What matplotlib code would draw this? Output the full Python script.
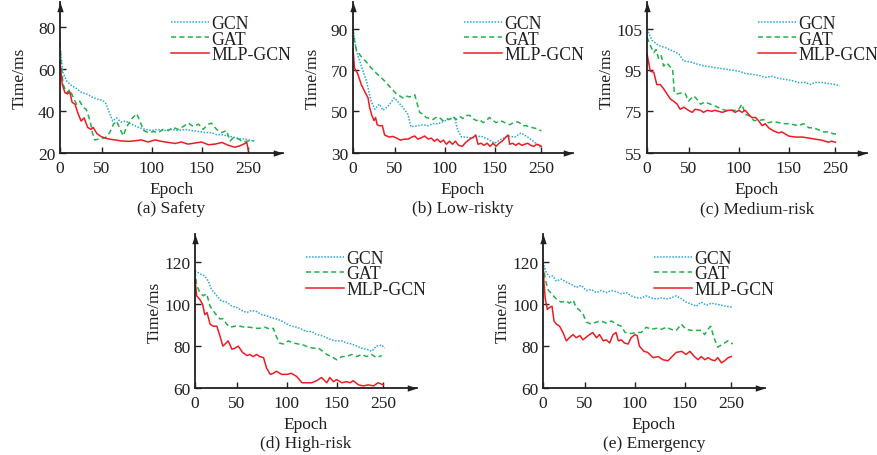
import matplotlib
matplotlib.use("Agg")
import matplotlib.pyplot as plt
from matplotlib.path import Path

# ---------------- data ----------------
series_names = ["GCN", "GAT", "MLP-GCN"]
panel_titles = ["(a) Safety", "(b) Low-riskty", "(c) Medium-risk", "(d) High-risk", "(e) Emergency"]
x_tick_labels = ["0", "50", "100", "150", "250"]

a_y_ticklabels = ["20", "40", "60", "80"]
a_y_ticks = [20, 40, 60, 80]
b_y_ticklabels = ["30", "50", "70", "90"]
b_y_ticks = [30, 50, 70, 90]
c_y_ticklabels = ["55", "75", "95", "105"]
c_y_ticks = [55, 75, 95, 115]
d_y_ticklabels = ["60", "80", "100", "120"]
d_y_ticks = [60, 80, 100, 120]
e_y_ticklabels = ["60", "80", "100", "120"]
e_y_ticks = [60, 80, 100, 120]

# (a) Safety
a_gcn_ep = [0, 4, 9, 15, 22, 29, 35, 42, 49, 55, 60, 64, 70, 75, 81, 87, 95, 104, 113, 122,
            130, 139, 148, 157, 166, 175, 184, 193, 201, 208, 215, 222, 228, 234, 239, 245, 250, 258]
a_gcn_ms = [70, 58, 54, 52, 50.5, 48.5, 48, 46.5, 45.5, 45, 44, 40.5, 35, 36.5, 34.5, 35, 33.5, 32, 31, 30.5,
            31, 30.5, 31, 30.5, 31, 30.5, 30, 29.5, 29.5, 28.5, 28.5, 28, 27.5, 27, 26.5, 26.5, 26, 25.5]
a_gat_ep = [0, 1.3, 4, 9, 13, 18, 22, 26, 31, 35, 40, 43, 46, 53, 60, 66, 71, 75, 80, 84,
            88, 95, 102, 106, 111, 117, 124, 130, 137, 144, 150, 157, 164, 170, 177, 184, 190, 197, 201, 208,
            215, 221, 226, 230, 237, 243, 250, 258]
a_gat_ms = [72.5, 64, 52.5, 48.5, 50, 46, 43, 44.5, 41.5, 40.5, 35, 29.5, 26, 26.5, 27, 29.5, 33.5, 35, 31, 28,
            32, 36, 38.5, 35, 30.5, 29.5, 30, 29.5, 31, 30.5, 32, 31, 32.5, 34, 32.5, 33.5, 31, 33.5, 34, 31,
            29.5, 30.5, 25.5, 27, 26.5, 25, 25.5, 25.5]
a_mlp_ep = [0, 3, 6.6, 10, 13, 16, 20, 23.5, 28, 32, 36.7, 41, 44, 49, 55, 64, 73, 82, 91, 100,
            108, 117, 126, 135, 144, 153, 161, 170, 179, 188, 197, 206, 215, 223, 232, 239, 245.6, 248, 250]
a_mlp_ms = [63, 52.5, 48.5, 48, 49, 44, 43, 39, 35, 36.5, 32, 31, 32, 29, 27.5, 26.5, 26, 25.5, 25.3, 25.6,
            26, 25, 26, 25.3, 24.8, 24.3, 25, 24, 24.5, 25, 23.7, 24, 24.8, 23.5, 22.5, 23.2, 24.3, 24.8, 21]

# (b) Low-riskty
b_gcn_ep = [0, 4.4, 11, 17.7, 24, 29, 35, 40, 46.5, 55, 60, 66, 73, 77, 86, 93, 100, 106, 113, 120,
            126, 135, 139, 144, 150, 157, 164, 170, 179, 188, 197, 206, 215, 223, 232, 241, 249]
b_gcn_ms = [90, 79.5, 72, 65, 55, 51, 53.5, 50.5, 52.5, 56.5, 54.5, 52, 48.5, 42.5, 43, 43.5, 43, 44, 44, 45,
            46, 47, 41, 37.5, 37.5, 37, 37.5, 38, 36.5, 34.5, 36.5, 38, 37.5, 39.5, 37.5, 35, 32.5]
b_gat_ep = [0, 2, 4.4, 10, 17.7, 22, 31, 40, 48.7, 57.5, 62, 66.4, 70, 75, 82, 85, 88.5, 93, 97, 102,
            106, 110, 115, 119, 124, 128, 133, 137, 142, 146, 150, 155, 159, 164, 168, 173, 177, 181, 186, 190,
            195, 199, 204, 208, 213, 217, 221, 226, 230, 235, 239, 245, 250]
b_gat_ms = [90, 84, 80, 77, 74, 72, 68.5, 65.5, 62, 58.5, 57.5, 56.5, 57.5, 57, 58, 54, 49.5, 48.5, 47, 46.5,
            46, 47, 47, 45.5, 46.5, 46, 47.5, 46, 47.5, 46.5, 48, 48, 46.5, 45.5, 46, 44.5, 45.5, 47, 45.5, 44.5,
            45.5, 45, 44, 43.5, 44.5, 45, 44.5, 43, 43, 42.5, 42, 41.5, 40.5]
b_mlp_ep = [0, 2, 6, 11, 15, 20, 22, 25, 28, 30, 32, 35, 39, 42, 48, 53, 58, 63, 68, 73,
            78, 82, 86, 90, 95, 100, 104, 108, 112, 116, 120, 124, 128, 132, 136, 140, 145, 150, 155, 160,
            163, 166, 170, 174, 178, 182, 186, 190, 194, 198, 203, 206, 208, 212, 216, 220, 224, 228, 232, 236,
            240, 244, 248, 250]
b_mlp_ms = [80.5, 71, 68.5, 63, 60, 56.5, 52, 48, 45.5, 47, 43.5, 43, 43, 38.5, 37.5, 37.8, 37, 36, 36.5, 36.5,
            37.5, 38, 36.5, 37, 38, 36.5, 37, 35.5, 36.5, 35, 36, 34, 35.5, 34, 35.5, 33.5, 33, 35, 36.5, 37.5,
            38.5, 34, 34.5, 33.5, 34.5, 33, 34.5, 33, 34.5, 35.5, 37.5, 38.5, 34, 34.5, 33.5, 34.5, 33.5, 34, 34.5, 33.5,
            33, 34, 33.5, 33]

# (c) Medium-risk
c_gcn_ep = [0, 6.6, 15.5, 24, 33, 42, 48.7, 57.5, 66, 77, 86, 95, 104, 113, 122, 130, 139, 148, 157, 166,
            175, 184, 192, 201, 210, 217, 223, 232, 241, 250, 256]
c_gcn_ms = [115, 109.5, 107, 106, 104.5, 103, 99.5, 99, 98, 97, 96.5, 96, 95.5, 95, 94.5, 93.5, 93, 92.5, 91.5, 92,
            91, 90.5, 90, 89, 89, 88, 89, 89, 88.5, 88, 87.5]
c_gat_ep = [0, 4.4, 9, 12, 15.5, 19, 22, 26.5, 31, 34, 36.3, 40, 46.5, 51, 55, 62, 66, 71, 77, 84,
            91, 97, 104, 111, 117, 122, 126, 130.5, 135, 142, 148, 155, 161, 168, 175, 181, 188, 195, 201, 208,
            215, 221, 228, 234.5, 241, 248, 252]
c_gat_ms = [111, 107, 103.5, 105, 100.5, 102, 97, 98.5, 96.5, 95.5, 84, 83.5, 84, 83.5, 80, 82.5, 81, 78.5, 79.5, 78.5,
            77.5, 76.5, 75.5, 75.5, 75.5, 76, 78.5, 73.5, 73, 70.5, 70.5, 71, 69.5, 70, 69.5, 69, 69, 68.5, 68, 69,
            67, 67, 66, 65, 65, 64, 64]
c_mlp_ep = [0, 4.4, 9, 13, 17.7, 22, 26.5, 31, 35, 40, 44, 49, 55, 60, 64, 71, 75, 80, 86, 90,
            95, 100, 104, 108, 113, 117, 122, 126, 130.5, 135, 139, 144, 148, 153, 157, 161.5, 168, 175, 179, 188,
            197, 206, 215, 223, 232, 241, 245, 250]
c_mlp_ms = [103, 94.5, 94, 88, 88, 86, 83.5, 81, 80, 78.5, 76, 77, 75.5, 74.5, 76, 75.5, 74.5, 75.5, 75, 75.5,
            75, 74.5, 75, 75.5, 75.5, 74.5, 75.5, 74.5, 75.5, 73.5, 72, 72, 70.5, 68, 69, 67, 65.5, 64.5, 65, 63,
            62.5, 62.5, 62, 61.5, 61, 60, 60.5, 60]

# (d) High-risk
d_gcn_ep = [0, 6.6, 13, 17.7, 22, 29, 35, 42, 49, 55, 62, 69, 75, 82, 88.5, 95, 102, 108, 115, 122,
            128, 135, 142, 148, 155, 161.5, 168, 175, 181, 188, 195, 201, 208, 215, 221, 228, 234.5, 241, 248, 252]
d_gcn_ms = [116, 114.5, 113.5, 111, 107, 104, 101.5, 101, 99, 98.5, 97, 96, 97, 96.5, 95, 94.5, 93.5, 93, 92, 90.5,
            89.5, 89, 88, 87, 87, 85.5, 85, 84, 83, 82.5, 82.5, 81.5, 81, 80, 79, 78.5, 77.5, 80, 80.5, 79]
d_gat_ep = [0, 2.2, 6.6, 11, 15.5, 20, 24, 29, 33, 37.6, 42, 46.5, 53, 60, 66, 73, 80, 86, 93, 100,
            104, 107.5, 112, 117, 124, 130.5, 137, 144, 150.5, 157, 164, 170, 175, 181, 188, 195, 201, 208, 215, 221,
            228, 234.5, 241, 248]
d_gat_ms = [116, 109, 105.5, 104, 105, 99, 97, 94.5, 93, 93, 90.5, 89, 89.5, 89.5, 89, 89, 88.5, 88.5, 89, 88,
            88.5, 85, 81.5, 81, 82.5, 81.5, 81, 80.5, 79.5, 79, 79, 77.5, 76, 75, 73.5, 75, 75, 76, 75, 76,
            75, 76, 74.5, 75.5]
d_mlp_ep = [0, 2.2, 6, 10, 13, 16, 20, 24, 29, 33, 37, 40, 44, 49, 53, 57.5, 63, 69, 73, 77,
            82, 86, 91, 95, 100, 104, 108, 115, 122, 128, 135, 142, 148, 155, 161.5, 168, 175, 179, 184, 188,
            195, 201, 206, 210, 217, 223.5, 230, 237, 243, 250]
d_mlp_ms = [112, 104, 102.5, 100, 95, 96, 90.5, 89.5, 89.5, 85, 80, 81, 82.5, 78.5, 79, 80, 77, 75.5, 76, 75,
            76, 75, 74.5, 69.5, 66.5, 67, 68, 66.5, 66.5, 67, 65.5, 62.5, 62.5, 62.5, 63.5, 65, 62.5, 65, 63, 64,
            62.5, 63, 62.5, 63.5, 61.5, 61, 61.5, 61, 62.5, 61.5]

# (e) Emergency
e_gcn_ep = [0, 4.4, 9, 13, 17.7, 24, 31, 37.6, 44, 51, 57.5, 64, 71, 77, 84, 91, 97, 104, 111, 117,
            124, 130.5, 137, 144, 150.5, 157, 164, 170, 177, 184, 190, 197, 203.5, 210, 217, 223.5, 230, 237, 243, 252]
e_gcn_ms = [120, 115, 113, 113.5, 111, 112, 110.5, 109.5, 108, 109, 106.5, 107, 105.5, 106.5, 105.5, 106.5, 106, 105, 105.5, 104,
            103, 103, 104, 103, 102.5, 103, 102.5, 103, 104, 102.5, 101, 100, 99, 101, 99.5, 100.5, 100, 99.5, 99, 98.5]
e_gat_ep = [0, 3, 6.6, 11, 17.7, 24, 31, 35, 40, 44, 49, 53, 57.5, 64, 71, 77, 84, 91, 97, 104,
            109, 117, 124, 130.5, 137, 144, 150.5, 157, 164, 170, 177, 183.6, 190, 197, 203.5, 210, 214.6, 219, 222.6, 227,
            232, 239, 245.6, 252]
e_gat_ms = [119, 112, 107, 105, 102.5, 101, 101.5, 100.5, 102, 98.5, 97, 95.5, 91.5, 90.5, 91.5, 92, 91, 92, 90.5, 89.5,
            86.5, 86, 86.5, 86.5, 89, 88, 88.5, 88, 89, 88, 87.5, 90.5, 88, 87.5, 87.5, 87.5, 85.5, 88, 89.5, 84,
            79.5, 81, 82.5, 81]
e_mlp_ep = [0, 1.3, 3, 5.8, 9, 12, 14.6, 17.7, 22, 26.5, 31, 35, 40, 44, 49, 53, 60, 66, 71, 75,
            80, 84, 88.5, 93, 97, 100, 104, 108, 113, 117, 122, 125, 128, 134, 139, 146, 153, 159, 166, 170,
            177, 184, 190, 195, 201, 206, 210, 215, 219, 223.5, 228, 232, 237, 241, 246, 250]
e_mlp_ms = [121, 110.5, 102.5, 97.5, 98.5, 99, 92, 90.5, 89.5, 86.5, 82.5, 84, 85.5, 84, 85, 83, 85, 86.5, 84, 85.5,
            82.5, 83, 81.5, 85.5, 86.5, 82.5, 83, 81.5, 81, 84, 85.5, 85, 80, 77.5, 77, 74.5, 75, 73.5, 73, 74.5,
            77, 77.5, 76, 77.5, 75, 73.5, 75, 73.5, 74.5, 73.5, 73, 74.5, 72, 73, 74.5, 75]

# ---------------- style / layout ----------------
plt.rcParams["font.family"] = ["Liberation Serif", "DejaVu Serif"]
FS = 12.5
LEG_FS = 12.8
TXT = "#231f20"
AX = "#231f20"
COLORS = ["#2aa7e1", "#22b04b", "#ed1c24"]
STYLES = [(0, (1, 1)), (0, (3.3, 2.2)), "-"]
LW = 1.1

W, H = 877, 456
fig = plt.figure(figsize=(W / 100, H / 100), dpi=100)
fig.patch.set_facecolor("white")

PX_PER_EPOCH = 188.3 / 250
xtick_pos = [0, 55.4, 121.7, 188.1, 250]

# (left, right, top, bottom) in pixels; y0 value at bottom, y1 value at pixel y1px; legend offset
layout = [
    (60, 283, 3, 153.5, 20, 80, 27.7, 13.0),
    (353, 573, 3, 153.5, 30, 90, 30, 13.0),
    (647, 867, 3, 153.5, 55, 115, 30, 13.0),
    (195, 417, 235, 389, 60, 120, 263.3, 15.8),
    (543, 765, 235, 389, 60, 120, 263.3, 15.8),
]
data = [
    ((a_gcn_ep, a_gcn_ms), (a_gat_ep, a_gat_ms), (a_mlp_ep, a_mlp_ms), a_y_ticks, a_y_ticklabels),
    ((b_gcn_ep, b_gcn_ms), (b_gat_ep, b_gat_ms), (b_mlp_ep, b_mlp_ms), b_y_ticks, b_y_ticklabels),
    ((c_gcn_ep, c_gcn_ms), (c_gat_ep, c_gat_ms), (c_mlp_ep, c_mlp_ms), c_y_ticks, c_y_ticklabels),
    ((d_gcn_ep, d_gcn_ms), (d_gat_ep, d_gat_ms), (d_mlp_ep, d_mlp_ms), d_y_ticks, d_y_ticklabels),
    ((e_gcn_ep, e_gcn_ms), (e_gat_ep, e_gat_ms), (e_mlp_ep, e_mlp_ms), e_y_ticks, e_y_ticklabels),
]

up_arrow = Path([(0, 0), (-0.33, -1), (0.33, -1), (0, 0)],
                [Path.MOVETO, Path.LINETO, Path.LINETO, Path.CLOSEPOLY])
right_arrow = Path([(0, 0), (-1, 0.33), (-1, -0.33), (0, 0)],
                   [Path.MOVETO, Path.LINETO, Path.LINETO, Path.CLOSEPOLY])

for (L, R, T, B, y0, y1, y1px, leg_off), (s1, s2, s3, yt, ytl), title in zip(layout, data, panel_titles):
    wpx, hpx = R - L, B - T
    ax = fig.add_axes([L / W, 1 - B / H, wpx / W, hpx / H])
    ax.set_facecolor("none")
    ppu = (B - y1px) / (y1 - y0)
    ax.set_xlim(0, wpx / PX_PER_EPOCH)
    ax.set_ylim(y0, y0 + hpx / ppu)

    handles = []
    for (ep, ms), col, ls, name in zip((s1, s2, s3), COLORS, STYLES, series_names):
        h, = ax.plot(ep, ms, color=col, linestyle=ls, linewidth=LW, label=name,
                     solid_joinstyle="round", clip_on=False)
        handles.append(h)

    for side in ("top", "right"):
        ax.spines[side].set_visible(False)
    for side in ("left", "bottom"):
        ax.spines[side].set_color(AX)
        ax.spines[side].set_linewidth(1.3)
    ax.plot([1], [0], marker=right_arrow, markersize=14, color=AX, mew=0,
            transform=ax.transAxes, clip_on=False)
    ax.plot([0], [1], marker=up_arrow, markersize=14, color=AX, mew=0,
            transform=ax.transAxes, clip_on=False)

    ax.set_xticks(xtick_pos)
    ax.set_xticklabels(x_tick_labels)
    ax.set_yticks(yt)
    ax.set_yticklabels(ytl)
    ax.tick_params(axis="both", direction="in", length=4, width=1, color=AX,
                   labelsize=FS, labelcolor=TXT)
    ax.tick_params(axis="x", pad=5.2)
    ax.tick_params(axis="y", pad=3.5)

    ax.set_xlabel("Epoch", fontsize=FS, color=TXT, va="center")
    ax.xaxis.set_label_coords(0.5, -36 / hpx)
    ax.set_ylabel("Time/ms", fontsize=FS, color=TXT, va="center")
    ax.yaxis.set_label_coords(-40 / wpx, 0.5)
    ax.text(0.5, -55.5 / hpx, title, transform=ax.transAxes, ha="center", va="center",
            fontsize=FS, color=TXT)

    ax.legend(handles=handles, loc="upper left", bbox_to_anchor=(111 / wpx, 1 - leg_off / hpx),
              frameon=False, borderpad=0, borderaxespad=0, handlelength=2.15,
              handletextpad=0.1, labelspacing=-0.08, fontsize=LEG_FS, labelcolor=TXT)

fig.savefig("out.png", dpi=100, facecolor="white")
